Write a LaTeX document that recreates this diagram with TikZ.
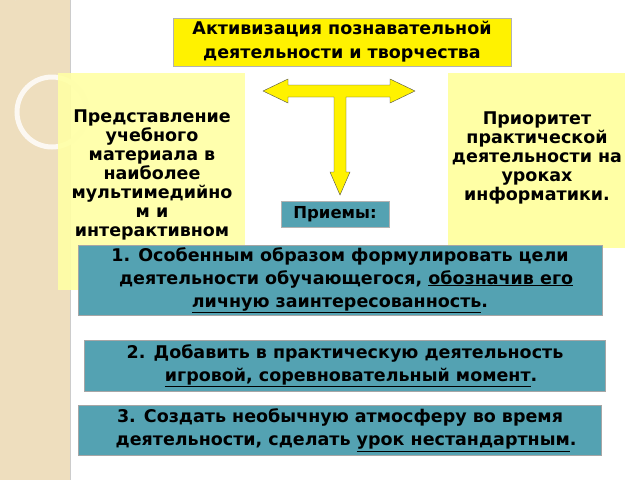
\documentclass[tikz,border=0pt]{standalone}
\usepackage{fontspec}
\setmainfont{DejaVu Sans}
\usetikzlibrary{positioning}
\definecolor{teal-a}{RGB}{84,162,178}
\definecolor{pale-a}{RGB}{255,255,165}
\definecolor{beige-a}{RGB}{238,222,190}
\begin{document}
\begin{tikzpicture}
[
x=1pt, y=-1pt,
title-a/.style={draw=gray!60, fill=yellow, font=\bfseries\fontsize{17.5}{24}\selectfont, align=center, minimum width=338pt, minimum height=48pt, inner sep=0pt},
side-a/.style={font=\bfseries\fontsize{17.5}{19}\selectfont, align=center},
step-a/.style={draw=gray!70, line width=1pt, fill=teal-a, font=\bfseries\fontsize{17.5}{23}\selectfont, align=center, inner sep=0pt},
]
\useasboundingbox (0,0) rectangle (640,480);
\fill[white] (0,0) rectangle (640,480);
% left strip
\fill[beige-a] (0,0) rectangle (70,480);
\draw[gray!40, line width=1pt] (70,0) -- (70,480);
\draw[white!85!gray, line width=1.5pt] (15,0) arc[start angle=180, end angle=260, radius=75];
\draw[white!80!beige-a, line width=5pt] (52,112) circle[radius=35];
% title
\node (act) [title-a] at (342,42) {Активизация познавательной\\деятельности и творчества};
% side boxes
\fill[pale-a, opacity=0.9] (58,73) rectangle (245,290);
\node (pres) [side-a, anchor=north] at (152,106) {Представление\\учебного\\материала в\\наиболее\\мультимедийно\\м и\\интерактивном\\виде.};
\fill[pale-a] (448,73) rectangle (625,248);
\node (prio) [side-a] at (537,158) {Приоритет\\практической\\деятельности на\\уроках\\информатики.};
% T arrow
\draw[gray!60!black, fill=yellow] (263,91) -- (288,79) -- (288,85) -- (390,85) -- (390,79) -- (415,91) -- (390,103) -- (390,97) -- (346,97) -- (346,172) -- (350,172) -- (340,195) -- (330,172) -- (334,172) -- (334,97) -- (288,97) -- (288,103) -- cycle;
% steps
\node (pri) [fill=teal-a, draw=gray!60, font=\bfseries\fontsize{16.5}{18}\selectfont, minimum width=108pt, minimum height=26pt, inner sep=0pt] at (335,214) {Приемы:};
\node (s1) [step-a, minimum width=524pt, minimum height=70pt] at (340,280) {1. Особенным образом формулировать цели\\\ \ деятельности обучающегося, \underline{обозначив его}\\\underline{личную заинтересованность}.};
\node (s2) [step-a, minimum width=521pt, minimum height=51pt] at (345,366) {2. Добавить в практическую деятельность\\\ \ \underline{игровой, соревновательный момент}.};
\node (s3) [step-a, minimum width=523pt, minimum height=50pt] at (340,430) {3. Создать необычную атмосферу во время\\\ \ деятельности, сделать \underline{урок нестандартным}.};
\end{tikzpicture}
\end{document}
